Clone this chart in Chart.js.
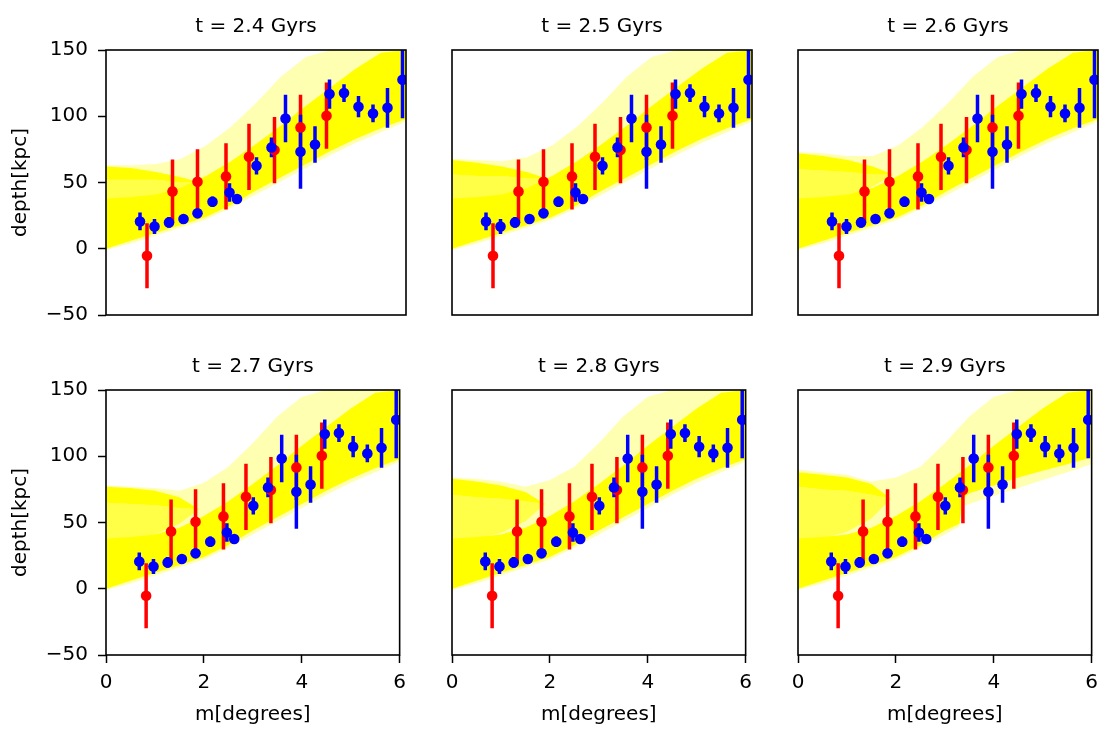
<!DOCTYPE html>
<html>
<head>
<meta charset="utf-8">
<script src="https://cdn.jsdelivr.net/npm/chart.js@4.4.1/dist/chart.umd.min.js"></script>
<style>
    body { margin: 0; background: #fff; width: 1110px; height: 729px; overflow: hidden; position: relative; }
    .panel { position: absolute; }
</style>
</head>
<body>
<script>
// snapshot times, one per panel
const times = ["2.4", "2.5", "2.6", "2.7", "2.8", "2.9"];

// observed points (same in every panel)
const blueX = [0.68, 0.97, 1.26, 1.55, 1.83, 2.13, 2.47, 2.62, 3.01, 3.31, 3.59, 3.89, 4.18, 4.47, 4.76, 5.05, 5.34, 5.63, 5.93];
const blueY = [20.6, 16.8, 19.9, 22.4, 26.7, 35.5, 42.5, 37.5, 62.6, 76.5, 98.3, 73.2, 78.7, 116.7, 117.5, 107.2, 102.1, 106.4, 127.5];
const blueErr = [6.7, 5.7, 4, 2, 3, 4, 7, 2, 6.5, 7.5, 18, 28, 13.7, 11, 6.7, 8, 6.7, 15, 29];
const redX = [0.82, 1.33, 1.83, 2.4, 2.86, 3.37, 3.89, 4.41];
const redY = [-5.3, 43.3, 50.6, 54.6, 69.4, 74.5, 91.6, 100.4];
const redErr = [24.5, 24, 24.5, 25, 25, 25, 24.6, 25];

// simulated particle cloud, traced as outlines
const bandX = [0, 0.5, 1, 1.5, 2, 2.5, 3, 3.5, 4, 4.5, 5, 5.5, 6];
const haloTop = [
    [63, 63, 64, 68, 78, 92, 110, 130, 145, 150, 150, 150, 150],
    [68, 67, 66, 69, 78, 92, 110, 130, 145, 150, 150, 150, 150],
    [73, 72, 70, 70, 78, 92, 110, 130, 145, 150, 150, 150, 150],
    [78, 77, 76, 74, 80, 92, 110, 130, 145, 150, 150, 150, 150],
    [84, 83, 81, 77, 82, 92, 110, 130, 145, 150, 150, 150, 150],
    [90, 88, 86, 81, 84, 92, 110, 130, 145, 150, 150, 150, 150]
];
const haloBottom = [-1, 4, 10, 16, 22, 31, 41, 51, 61, 71, 80, 88, 96];
const coreTop = [38, 39, 41, 46, 55, 66, 79, 93, 108, 122, 136, 148, 150];
const coreBottom = [0, 6, 12, 18, 24, 33, 44, 54, 64, 74, 83, 91, 98];
// last panel has a step in the lower edge
const lastX = [0, 0.5, 1, 1.5, 2, 2.5, 3, 3.3, 3.35, 3.5, 4, 4.5, 5, 5.5, 6];
const lastHaloBottom = [-1, 4, 10, 16, 22, 31, 41, 47, 62, 64, 70, 76, 82, 88, 94];
const lastCoreBottom = [0, 6, 12, 18, 24, 33, 44, 49, 68, 72, 78, 84, 89, 94, 99];

// streak of particles at small m
const tailX = [0, 0.5, 1, 1.5, 1.9];
const tailTop = [
    [62, 61, 58, 54, 50],
    [67, 65, 62, 58, 53],
    [72, 70, 67, 62, 56],
    [77, 76, 74, 69, 60],
    [83, 81, 78, 73, 64],
    [88, 86, 84, 79, 68]
];
const tailBottom = [
    [52, 52, 52, 50, 50],
    [56, 55, 55, 53, 53],
    [60, 59, 58, 56, 56],
    [65, 64, 63, 61, 60],
    [71, 69, 68, 66, 64],
    [77, 75, 74, 71, 68]
];
const mottleBottom = [
    [37, 38, 40, 45, 50],
    [37, 38, 40, 46, 53],
    [37, 38, 40, 47, 56],
    [37, 38, 41, 49, 60],
    [37, 38, 42, 51, 64],
    [37, 38, 43, 53, 68]
];

const PLOT_LEFT = [106, 452, 798];
const PLOT_TOP = [50, 390];
const FONT = { family: "DejaVu Sans", size: 20 };

function pts(xs, ys) {
    return xs.map((x, k) => ({ x: x, y: ys[k] }));
}

function barPts(xs, ys, es) {
    const out = [];
    xs.forEach((x, k) => {
        out.push({ x: x, y: ys[k] - es[k] }, { x: x, y: ys[k] + es[k] }, { x: x, y: null });
    });
    return out;
}

function band(data, color, fill) {
    return {
        data: data,
        showLine: true,
        pointRadius: 0,
        borderWidth: 0,
        borderColor: "rgba(0,0,0,0)",
        backgroundColor: color,
        fill: fill
    };
}

const framePlugin = {
    id: "frame",
    afterDatasetsDraw(chart) {
        const { ctx, chartArea: a } = chart;
        ctx.save();
        ctx.strokeStyle = "#000";
        ctx.lineWidth = 1.6;
        ctx.strokeRect(a.left, a.top, a.right - a.left, a.bottom - a.top);
        ctx.restore();
    }
};

function makePanel(i) {
    const row = Math.floor(i / 3);
    const col = i % 3;
    const isLeft = col === 0;
    const isBottom = row === 1;
    const isLast = i === 5;
    const bottomSpace = isBottom ? 74 : 30;

    const div = document.createElement("div");
    div.className = "panel";
    div.style.left = (PLOT_LEFT[col] - 106) + "px";
    div.style.top = (PLOT_TOP[row] - 50) + "px";
    div.style.width = "414px";
    div.style.height = (315 + bottomSpace) + "px";
    const canvas = document.createElement("canvas");
    div.appendChild(canvas);
    document.body.appendChild(div);

    const lowX = isLast ? lastX : bandX;
    // first dataset is drawn on top
    const datasets = [
        { data: pts(blueX, blueY), pointRadius: 5.3, pointBackgroundColor: "#0000ff", pointBorderWidth: 0, showLine: false },
        { data: pts(redX, redY), pointRadius: 5.3, pointBackgroundColor: "#ff0000", pointBorderWidth: 0, showLine: false },
        { data: barPts(blueX, blueY, blueErr), showLine: true, pointRadius: 0, borderColor: "#0000ff", borderWidth: 3.5, fill: false },
        { data: barPts(redX, redY, redErr), showLine: true, pointRadius: 0, borderColor: "#ff0000", borderWidth: 3.5, fill: false },
        band(pts(tailX, tailTop[i]), "#ffff00", "+1"),
        band(pts(tailX, tailBottom[i]), "rgba(0,0,0,0)", false),
        band(pts(tailX, tailBottom[i]), "rgba(255,255,0,0.6)", "+1"),
        band(pts(tailX, mottleBottom[i]), "rgba(0,0,0,0)", false),
        band(pts(bandX, coreTop), "#ffff00", "+1"),
        band(pts(lowX, isLast ? lastCoreBottom : coreBottom), "rgba(0,0,0,0)", false),
        band(pts(bandX, haloTop[i]), "rgba(255,255,0,0.3)", "+1"),
        band(pts(lowX, isLast ? lastHaloBottom : haloBottom), "rgba(0,0,0,0)", false)
    ];

    new Chart(canvas, {
        type: "scatter",
        data: { datasets: datasets },
        options: {
            responsive: true,
            maintainAspectRatio: false,
            animation: false,
            events: [],
            layout: { padding: { left: 0, top: 0, right: 8, bottom: 0 } },
            plugins: {
                legend: { display: false },
                tooltip: { enabled: false },
                title: {
                    display: true,
                    text: "t = " + times[i] + " Gyrs",
                    font: { family: FONT.family, size: 20, weight: "normal" },
                    color: "#000",
                    padding: { top: 15, bottom: 11 },
                    fullSize: false
                }
            },
            scales: {
                x: {
                    type: "linear",
                    min: 0,
                    max: 6,
                    afterFit: s => { s.height = bottomSpace; },
                    ticks: { display: isBottom, stepSize: 2, padding: 8, font: FONT, color: "#000", maxRotation: 0 },
                    grid: { drawOnChartArea: false, drawTicks: isBottom, tickLength: 8, tickColor: "#000", tickWidth: 1.5 },
                    border: { display: false },
                    title: { display: isBottom, text: "m[degrees]", font: FONT, color: "#000", padding: { top: 0, bottom: 2 } }
                },
                y: {
                    type: "linear",
                    min: -50,
                    max: 150,
                    afterFit: s => { s.width = 106; },
                    ticks: {
                        display: isLeft,
                        stepSize: 50,
                        padding: 10,
                        font: FONT,
                        color: "#000",
                        callback: v => (v < 0 ? "\u2212" + Math.abs(v) : String(v))
                    },
                    grid: { drawOnChartArea: false, drawTicks: isLeft, tickLength: 8, tickColor: "#000", tickWidth: 1.5 },
                    border: { display: false },
                    title: { display: isLeft, text: "depth[kpc]", font: FONT, color: "#000", padding: { top: 9, bottom: 0 } }
                }
            }
        },
        plugins: [framePlugin]
    });
}

for (let i = 0; i < 6; i++) {
    makePanel(i);
}
</script>
</body>
</html>
